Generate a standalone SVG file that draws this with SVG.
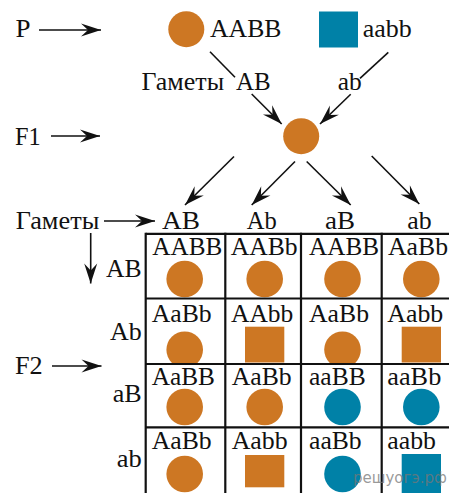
<svg xmlns="http://www.w3.org/2000/svg" width="449" height="493" viewBox="0 0 449 493">
<style>
text{font-family:"Liberation Serif","Times New Roman",serif;font-size:25px;fill:#111}
.ln{stroke:#111;stroke-width:1.6;fill:none}
.ar{stroke:#111;stroke-width:1.6;fill:none;marker-end:url(#ah)}
.grid{stroke:#111;stroke-width:2.2;fill:none}
.o{fill:#CD7723}
.t{fill:#0081A7}
.wm{font-family:"DejaVu Sans",sans-serif;font-size:15px;fill:#777;fill-opacity:0.75}
</style>
<defs>
<marker id="ah" markerUnits="userSpaceOnUse" markerWidth="24" markerHeight="16" viewBox="-21 -8 24 16" refX="0" refY="0" orient="auto">
<path d="M0,0 L-20,-6.5 L-13,0 L-20,6.5 Z" fill="#111"/>
</marker>
<clipPath id="r2"><rect x="146" y="299" width="303" height="64"/></clipPath>
</defs>

<g id="labels">
<text x="15.5" y="37" textLength="15" lengthAdjust="spacingAndGlyphs">P</text>
<text x="15" y="145" textLength="25.7" lengthAdjust="spacingAndGlyphs">F1</text>
<text x="15" y="373.5" textLength="27.7" lengthAdjust="spacingAndGlyphs">F2</text>
</g>

<g id="parent1">
<circle class="o" cx="186.3" cy="29.2" r="18"/>
<text x="210" y="37" textLength="71.5" lengthAdjust="spacingAndGlyphs">AABB</text>
</g>
<g id="parent2">
<rect class="t" x="319" y="11.5" width="39" height="36"/>
<text x="362.7" y="37" textLength="49" lengthAdjust="spacingAndGlyphs">aabb</text>
</g>
<g id="gametes-p">
<text x="141.5" y="90" textLength="82.6" lengthAdjust="spacingAndGlyphs">Гаметы</text>
<text x="236" y="90" textLength="34.7" lengthAdjust="spacingAndGlyphs">AB</text>
<text x="337.7" y="90" textLength="24" lengthAdjust="spacingAndGlyphs">ab</text>
</g>
<g id="f1">
<circle class="o" cx="301.2" cy="136.2" r="18"/>
</g>

<g id="header">
<text x="15.7" y="228.5" textLength="83.6" lengthAdjust="spacingAndGlyphs">Гаметы</text>
<text x="162" y="228.5" textLength="38" lengthAdjust="spacingAndGlyphs">AB</text>
<text x="246.7" y="228.5" textLength="30" lengthAdjust="spacingAndGlyphs">Ab</text>
<text x="325" y="228.5" textLength="30" lengthAdjust="spacingAndGlyphs">aB</text>
<text x="407.3" y="228.5" textLength="24.4" lengthAdjust="spacingAndGlyphs">ab</text>
<text x="106" y="277" textLength="35.7" lengthAdjust="spacingAndGlyphs">AB</text>
<text x="110" y="340" textLength="31.7" lengthAdjust="spacingAndGlyphs">Ab</text>
<text x="112.7" y="402" textLength="29" lengthAdjust="spacingAndGlyphs">aB</text>
<text x="116.7" y="467" textLength="25" lengthAdjust="spacingAndGlyphs">ab</text>
</g>

<g id="connectors">
<line class="ar" x1="39" y1="30" x2="101" y2="30"/>
<line class="ar" x1="51" y1="136" x2="100" y2="136"/>
<line class="ar" x1="52" y1="366" x2="101.5" y2="366"/>
<line class="ln" x1="210" y1="51.7" x2="235" y2="77.3"/>
<line class="ar" x1="251.7" y1="94" x2="281.7" y2="124"/>
<line class="ln" x1="388.3" y1="52.3" x2="360" y2="78.3"/>
<line class="ar" x1="350.7" y1="94.3" x2="320" y2="124"/>
<line class="ar" x1="234" y1="156.5" x2="185" y2="205"/>
<line class="ar" x1="295" y1="161.5" x2="251.7" y2="205"/>
<line class="ar" x1="306.7" y1="161.5" x2="350.7" y2="205"/>
<line class="ar" x1="371.7" y1="156" x2="419.3" y2="204"/>
<line class="ar" x1="104" y1="221" x2="155" y2="221"/>
<line class="ar" x1="90.7" y1="233" x2="90.7" y2="283.5"/>
</g>

<g id="cells">
<g id="r1">
<text x="152.3" y="254.5" textLength="70" lengthAdjust="spacingAndGlyphs">AABB</text><circle class="o" cx="184.7" cy="279" r="18.3"/>
<text x="230.7" y="254.5" textLength="67" lengthAdjust="spacingAndGlyphs">AABb</text><circle class="o" cx="264.7" cy="279" r="18.3"/>
<text x="309" y="254.5" textLength="70" lengthAdjust="spacingAndGlyphs">AABB</text><circle class="o" cx="342.5" cy="279" r="18.3"/>
<text x="388" y="254.5" textLength="60" lengthAdjust="spacingAndGlyphs">AaBb</text><circle class="o" cx="421.3" cy="279" r="18.3"/>
</g>
<g id="r2" clip-path="url(#r2)">
<text x="151.7" y="321.7" textLength="60" lengthAdjust="spacingAndGlyphs">AaBb</text><circle class="o" cx="184.7" cy="349.7" r="18.3"/>
<text x="231" y="321.7" textLength="62.3" lengthAdjust="spacingAndGlyphs">AAbb</text><rect class="o" x="245" y="326.7" width="39.3" height="35.8"/>
<text x="309" y="321.7" textLength="60" lengthAdjust="spacingAndGlyphs">AaBb</text><circle class="o" cx="342.5" cy="349.7" r="18.3"/>
<text x="387.3" y="321.7" textLength="56" lengthAdjust="spacingAndGlyphs">Aabb</text><rect class="o" x="401.7" y="326.7" width="39.3" height="35.8"/>
</g>
<g id="r3">
<text x="151.7" y="385" textLength="63.3" lengthAdjust="spacingAndGlyphs">AaBB</text><circle class="o" cx="184.7" cy="407" r="18.3"/>
<text x="231.7" y="385" textLength="60" lengthAdjust="spacingAndGlyphs">AaBb</text><circle class="o" cx="264.7" cy="407" r="18.3"/>
<text x="309" y="385" textLength="56.7" lengthAdjust="spacingAndGlyphs">aaBB</text><circle class="t" cx="342.5" cy="407" r="18.3"/>
<text x="387.3" y="385" textLength="54" lengthAdjust="spacingAndGlyphs">aaBb</text><circle class="t" cx="421.3" cy="407" r="18.3"/>
</g>
<g id="r4">
<text x="151.7" y="449.3" textLength="60" lengthAdjust="spacingAndGlyphs">AaBb</text><circle class="o" cx="184.7" cy="474" r="18.3"/>
<text x="231.7" y="449.3" textLength="56" lengthAdjust="spacingAndGlyphs">Aabb</text><rect class="o" x="245" y="455" width="39.3" height="32.3"/>
<text x="309" y="449.3" textLength="52.7" lengthAdjust="spacingAndGlyphs">aaBb</text><circle class="t" cx="342.5" cy="474" r="18.3"/>
<text x="387.3" y="449.3" textLength="48.7" lengthAdjust="spacingAndGlyphs">aabb</text><rect class="t" x="401.7" y="454" width="39.3" height="40"/>
</g>
</g>

<g id="grid">
<line class="grid" x1="145.7" y1="233.9" x2="449" y2="233.9"/>
<line class="grid" x1="145.7" y1="298.5" x2="449" y2="298.5"/>
<line class="grid" x1="145.7" y1="364" x2="449" y2="364"/>
<line class="grid" x1="145.7" y1="427.3" x2="449" y2="427.3"/>
<line class="grid" x1="145.7" y1="232.8" x2="145.7" y2="493"/>
<line class="grid" x1="225.3" y1="232.8" x2="225.3" y2="493"/>
<line class="grid" x1="301" y1="232.8" x2="301" y2="493"/>
<line class="grid" x1="381.7" y1="232.8" x2="381.7" y2="493"/>
</g>

<text class="wm" x="353" y="483">решуогэ.рф</text>
</svg>
